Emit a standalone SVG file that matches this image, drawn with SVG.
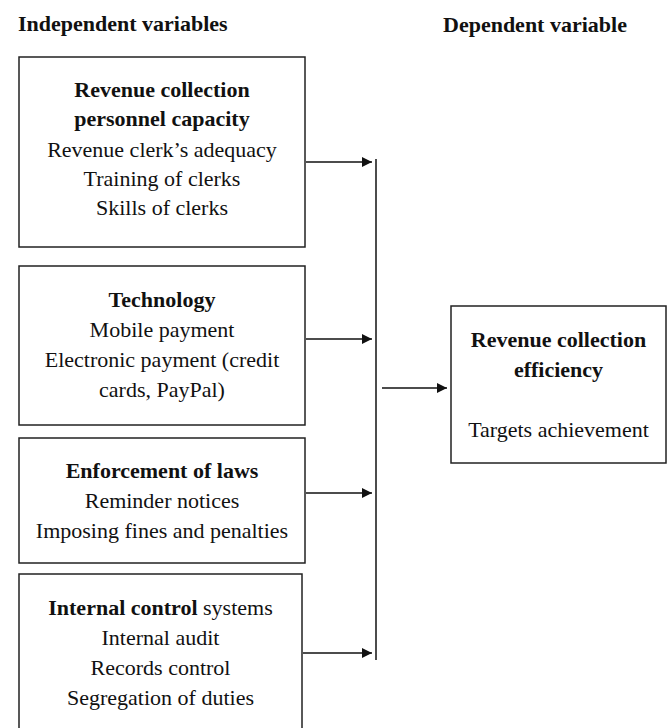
<svg xmlns="http://www.w3.org/2000/svg" width="668" height="728" viewBox="0 0 668 728">
<style>
text{font-family:"Liberation Serif","Times New Roman",serif;font-size:22px;fill:#111;}
.b{font-weight:bold;}
.c{text-anchor:middle;}
.box{fill:#fff;stroke:#222;stroke-width:1.5;}
.ln{stroke:#111;stroke-width:1.5;fill:none;}
</style>
<defs>
<marker id="ah" viewBox="0 0 10 10" refX="10" refY="5" markerWidth="10" markerHeight="10" markerUnits="userSpaceOnUse" orient="auto">
<path d="M0,0 L10,5 L0,10 Z" fill="#111"/>
</marker>
</defs>
<text class="b" x="18" y="31">Independent variables</text>
<text class="b" x="443" y="32">Dependent variable</text>
<g id="node-personnel">
<rect class="box" x="19" y="57" width="286" height="190"/>
<text class="b c" x="162" y="97">Revenue collection</text>
<text class="b c" x="162" y="126">personnel capacity</text>
<text class="c" x="162" y="157">Revenue clerk’s adequacy</text>
<text class="c" x="162" y="186">Training of clerks</text>
<text class="c" x="162" y="215">Skills of clerks</text>
</g>
<g id="node-technology">
<rect class="box" x="19" y="266" width="286" height="159"/>
<text class="b c" x="162" y="307">Technology</text>
<text class="c" x="162" y="337">Mobile payment</text>
<text class="c" x="162" y="367">Electronic payment (credit</text>
<text class="c" x="162" y="397">cards, PayPal)</text>
</g>
<g id="node-enforcement">
<rect class="box" x="19" y="438" width="286" height="125"/>
<text class="b c" x="162" y="478">Enforcement of laws</text>
<text class="c" x="162" y="508">Reminder notices</text>
<text class="c" x="162" y="538">Imposing fines and penalties</text>
</g>
<g id="node-internal">
<rect class="box" x="19" y="574" width="283" height="160"/>
<text class="c" x="160.5" y="615"><tspan class="b">Internal control</tspan> systems</text>
<text class="c" x="160.5" y="645">Internal audit</text>
<text class="c" x="160.5" y="675">Records control</text>
<text class="c" x="160.5" y="705">Segregation of duties</text>
</g>
<g id="node-efficiency">
<rect class="box" x="451" y="306" width="215" height="157"/>
<text class="b c" x="558.5" y="347">Revenue collection</text>
<text class="b c" x="558.5" y="377">efficiency</text>
<text class="c" x="558.5" y="437">Targets achievement</text>
</g>
<g id="connectors">
<line class="ln" x1="306" y1="162" x2="372" y2="162" marker-end="url(#ah)"/>
<line class="ln" x1="306" y1="339" x2="372" y2="339" marker-end="url(#ah)"/>
<line class="ln" x1="306" y1="493" x2="372" y2="493" marker-end="url(#ah)"/>
<line class="ln" x1="303" y1="653" x2="372" y2="653" marker-end="url(#ah)"/>
<line class="ln" x1="376" y1="159" x2="376" y2="660"/>
<line class="ln" x1="382" y1="388" x2="447" y2="388" marker-end="url(#ah)"/>
</g>
</svg>
